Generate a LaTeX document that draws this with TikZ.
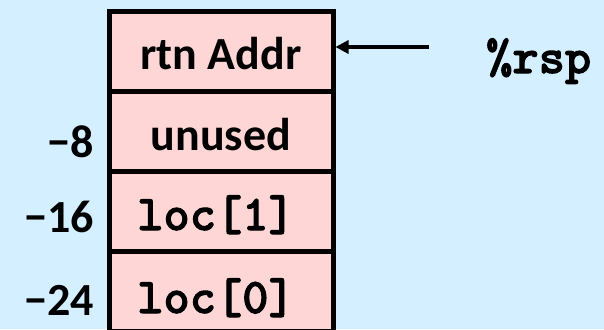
\documentclass[tikz,border=0pt]{standalone}
\usepackage{fontspec}
\setmainfont{Carlito}
\newfontfamily\codefont{lmmonolt10-bold.otf}[FakeBold=2]
\usetikzlibrary{arrows.meta}
\definecolor{slidebg}{RGB}{212,239,255}
\definecolor{cellfill}{RGB}{255,214,214}
\begin{document}
\begin{tikzpicture}[x=1pt,y=-1pt,
  cell/.style={draw=black, fill=cellfill, line width=5pt,
    minimum width=224pt, minimum height=80pt, inner sep=0pt},
  celltext/.style={anchor=base, inner sep=0pt, font=\fontsize{46}{46}\selectfont\bfseries},
  cellcode/.style={anchor=base, inner sep=0pt, font=\fontsize{50}{50}\selectfont\codefont},
  offset/.style={anchor=base east, inner sep=0pt, font=\fontsize{46}{46}\selectfont\bfseries},
  pointer/.style={line width=4pt, -{Triangle[length=13pt,width=13pt]}}]
  % slide background and page frame
  \fill[slidebg] (0,0) rectangle (604,329);
  \useasboundingbox (0,0) rectangle (604,329);
  \clip (0,0) rectangle (604,329);
  % stack frame cells
  \node[cell] (c0) at (221,51.5) {};
  \node[cell] (c1) at (221,131) {};
  \node[cell] (c2) at (221,211) {};
  \node[cell] (c3) at (221,291) {};
  % cell contents
  \node[celltext] (t0) at (221,70) {rtn Addr};
  \node[celltext] (t1) at (221,150) {unused};
  \node[cellcode] (t2) at (216,230) {loc[1]};
  \node[cellcode] (t3) at (216,313) {loc[0]};
  % offsets from the return address
  \node[offset] (o1) at (94,157) {−8};
  \node[offset] (o2) at (94,232) {−16};
  \node[offset] (o3) at (94,315) {−24};
  % stack pointer
  \node[anchor=base west, inner sep=0pt, font=\fontsize{50}{50}\selectfont\codefont] (rsp) at (486,73) {\%rsp};
  \coordinate (tail) at (429,47);
  \draw[pointer] (tail) -- (tail -| c0.east);
\end{tikzpicture}
\end{document}
